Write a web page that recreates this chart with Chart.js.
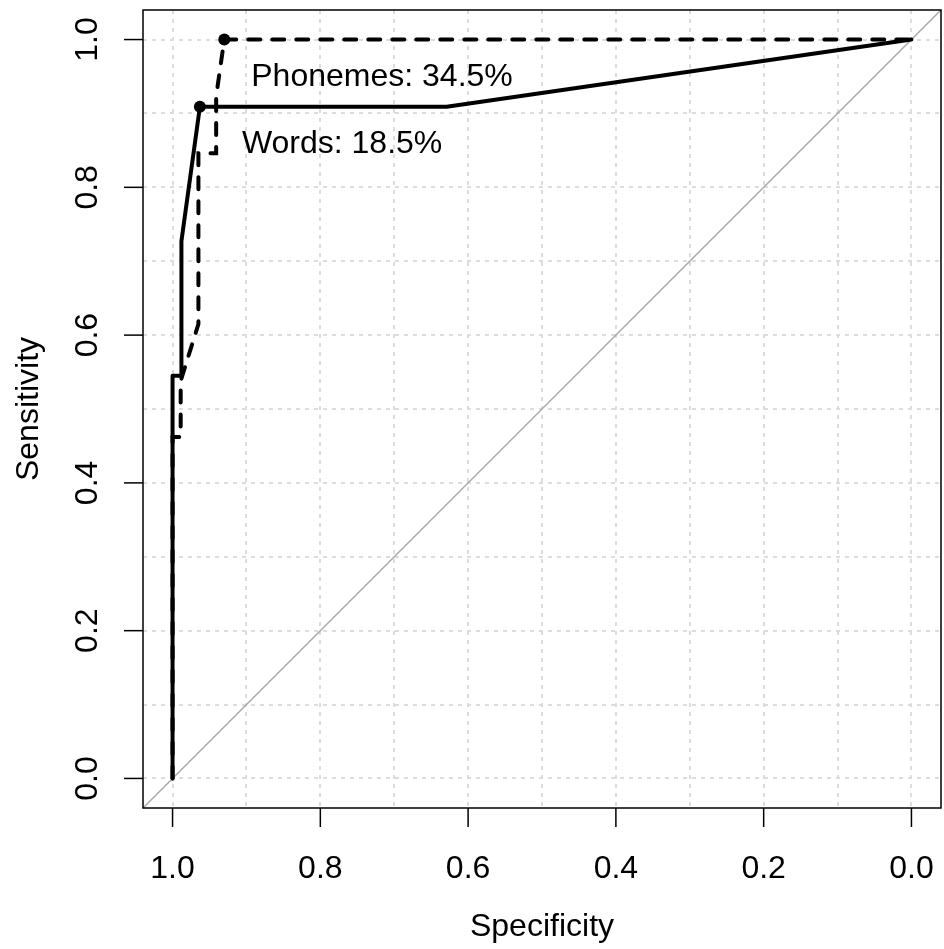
<!DOCTYPE html>
<html>
<head>
<meta charset="utf-8">
<script src="https://cdn.jsdelivr.net/npm/chart.js@4.4.0/dist/chart.umd.min.js"></script>
<style>
  body { margin: 0; background: #fff; }
</style>
</head>
<body>
<canvas id="roc" width="944" height="949"></canvas>

<script type="text/javascript">
    // ROC curves, specificity on a reversed x axis
    const wordsSpec = [1, 1, 0.988, 0.988, 0.963, 0.629, 0];
    const wordsSens = [0, 0.545, 0.545, 0.727, 0.909, 0.909, 1];

    const phonSpec = [1, 1, 0.989, 0.989, 0.965, 0.965, 0.941, 0.941, 0.930, 0];
    const phonSens = [0, 0.462, 0.462, 0.538, 0.615, 0.846, 0.846, 0.923, 1, 1];

    // best thresholds
    const thrNames = ["Words", "Phonemes"];
    const thrValues = ["18.5%", "34.5%"];
    const thrSpec = [0.963, 0.930];
    const thrSens = [0.909, 1.0];

    const axisMin = -0.04;
    const axisMax = 1.04;
    const gridVals = [0, 0.1, 0.2, 0.3, 0.4, 0.5, 0.6, 0.7, 0.8, 0.9, 1.0];
    const tickVals = [0, 0.2, 0.4, 0.6, 0.8, 1.0];
    const tickLabels = ["0.0", "0.2", "0.4", "0.6", "0.8", "1.0"];

    const FONT = "32px 'Liberation Sans', Arial, sans-serif";

    function pts(xs, ys) {
      return xs.map((x, i) => ({ x: x, y: ys[i] }));
    }

    // axes, box, labels drawn the way R's plot does it
    const rAxes = {
      id: "rAxes",
      afterDraw(chart) {
        const c = chart.ctx;
        const a = chart.chartArea;
        const xs = chart.scales.x;
        const ys = chart.scales.y;
        c.save();
        c.strokeStyle = "#000";
        c.fillStyle = "#000";
        c.lineWidth = 1.5;
        c.strokeRect(a.left, a.top, a.right - a.left, a.bottom - a.top);
        c.font = FONT;

        c.textAlign = "center";
        c.textBaseline = "alphabetic";
        tickVals.forEach((v, i) => {
          const px = xs.getPixelForValue(v);
          c.beginPath();
          c.moveTo(px, a.bottom);
          c.lineTo(px, a.bottom + 19);
          c.stroke();
          c.fillText(tickLabels[i], px, a.bottom + 70);
        });
        tickVals.forEach((v, i) => {
          const py = ys.getPixelForValue(v);
          c.beginPath();
          c.moveTo(a.left, py);
          c.lineTo(a.left - 19, py);
          c.stroke();
          c.save();
          c.translate(a.left - 46, py);
          c.rotate(-Math.PI / 2);
          c.fillText(tickLabels[i], 0, 0);
          c.restore();
        });

        c.fillText("Specificity", (a.left + a.right) / 2, a.bottom + 128);
        c.save();
        c.translate(a.left - 105, (a.top + a.bottom) / 2);
        c.rotate(-Math.PI / 2);
        c.fillText("Sensitivity", 0, 0);
        c.restore();

        // threshold labels
        c.textAlign = "left";
        const offX = [42, 27];
        thrNames.forEach((n, i) => {
          const px = xs.getPixelForValue(thrSpec[i]);
          const py = ys.getPixelForValue(thrSens[i]);
          c.fillText(n + ": " + thrValues[i], px + offX[i], py + 46);
        });
        c.restore();
      }
    };

    function gridScale(reverse) {
      return {
        type: "linear",
        reverse: reverse,
        min: axisMin,
        max: axisMax,
        afterBuildTicks: (scale) => {
          scale.ticks = gridVals.map((v) => ({ value: v }));
        },
        ticks: { display: false },
        grid: { color: "#dcdcdc", lineWidth: 2, drawTicks: false },
        border: { display: false, dash: [4, 5] }
      };
    }

    const ctx = document.getElementById("roc").getContext("2d");
    const rocChart = new Chart(ctx, {
      type: "scatter",
      data: {
        datasets: [
          {
            label: "threshold",
            data: pts(thrSpec, thrSens),
            showLine: false,
            pointRadius: 6,
            pointBackgroundColor: "#000",
            pointBorderColor: "#000",
            pointBorderWidth: 0
          },
          {
            label: "Phonemes",
            data: pts(phonSpec, phonSens),
            showLine: true,
            borderColor: "#000",
            borderWidth: 4,
            borderDash: [12, 12],
            borderCapStyle: "round",
            pointRadius: 0,
            tension: 0
          },
          {
            label: "Words",
            data: pts(wordsSpec, wordsSens),
            showLine: true,
            borderColor: "#000",
            borderWidth: 4,
            borderCapStyle: "round",
            borderJoinStyle: "round",
            pointRadius: 0,
            tension: 0
          },
          {
            label: "identity",
            data: pts([axisMax, axisMin], [axisMin, axisMax]),
            showLine: true,
            borderColor: "#a9a9a9",
            borderWidth: 1.5,
            pointRadius: 0
          }
        ]
      },
      options: {
        responsive: false,
        animation: false,
        layout: { autoPadding: false, padding: { left: 143, right: 3, top: 10, bottom: 141 } },
        plugins: { legend: { display: false }, tooltip: { enabled: false } },
        scales: {
          x: gridScale(true),
          y: gridScale(false)
        }
      },
      plugins: [rAxes]
    });
</script>
</body>
</html>
